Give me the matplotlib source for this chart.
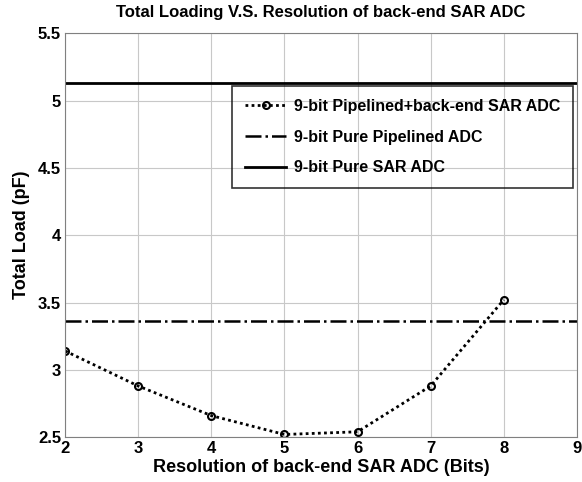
import matplotlib
matplotlib.use("Agg")
import matplotlib.pyplot as plt

plt.rcParams['font.family'] = ['Liberation Sans', 'DejaVu Sans']
plt.rcParams['font.weight'] = 'bold'

# data
bits = [2, 3, 4, 5, 6, 7, 8]
hybrid_load = [3.14, 2.88, 2.66, 2.52, 2.54, 2.88, 3.52]
pipelined_load = 3.36
sar_load = 5.13

fig = plt.figure(figsize=(5.82, 4.82), dpi=100)
ax = fig.add_axes([0.112, 0.093, 0.879, 0.838])

ax.plot(bits, hybrid_load, linestyle=(0, (1, 1.2)), color='black', linewidth=2,
        marker='o', markersize=5, markerfacecolor='none', markeredgewidth=1.5,
        label='9-bit Pipelined+back-end SAR ADC')
ax.axhline(pipelined_load, linestyle='-.', color='black', linewidth=1.8,
           label='9-bit Pure Pipelined ADC')
ax.axhline(sar_load, linestyle='-', color='black', linewidth=2,
           label='9-bit Pure SAR ADC')

ax.set_xlim(2, 9)
ax.set_ylim(2.5, 5.5)
ax.set_xticks(range(2, 10))
ax.set_yticks([2.5, 3, 3.5, 4, 4.5, 5, 5.5])
ax.set_yticklabels(['2.5', '3', '3.5', '4', '4.5', '5', '5.5'])
ax.grid(True, color='#c8c8c8', linewidth=0.8)
ax.tick_params(labelsize=12, length=0, pad=3)
for s in ax.spines.values():
    s.set_color('#808080')

ax.set_title('Total Loading V.S. Resolution of back-end SAR ADC',
             fontsize=12, fontweight='bold', pad=12)
ax.set_xlabel('Resolution of back-end SAR ADC (Bits)', fontsize=13,
              fontweight='bold', labelpad=2)
ax.set_ylabel('Total Load (pF)', fontsize=13, fontweight='bold', labelpad=6)

leg = ax.legend(loc='upper left', bbox_to_anchor=(0.326, 0.87),
                prop={'size': 11.5, 'weight': 'bold'}, frameon=True,
                fancybox=False, edgecolor='black', handlelength=2.6,
                borderpad=0.8, labelspacing=1.0, handletextpad=0.5,
                borderaxespad=0)
leg.get_frame().set_facecolor('none')
leg.get_frame().set_linewidth(1.2)

fig.savefig('out.png', dpi=100)
